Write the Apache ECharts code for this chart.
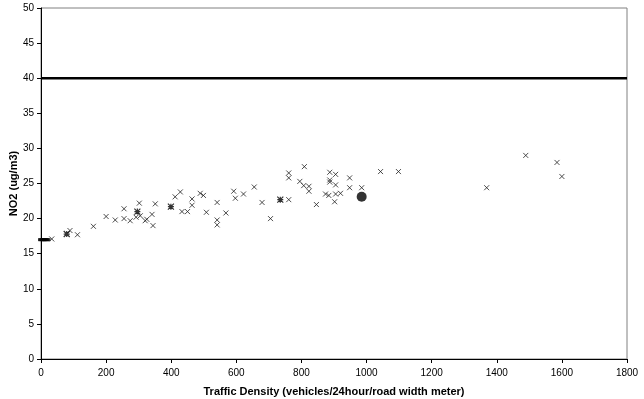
<!DOCTYPE html>
<html><head><meta charset="utf-8">
<script src="https://cdn.jsdelivr.net/npm/echarts@6/dist/echarts.min.js"></script>
<style>html,body{margin:0;padding:0;background:#fff}#c{width:644px;height:399px}</style>
</head><body><div id="c"></div>
<script>
// Data (traffic density, NO2)
const crossX = [33,89,112,161,200,228,255,255,274,302,292,305,320,325,341,344,351,412,428,433,450,464,464,489,499,508,541,541,541,568,592,597,622,655,679,705,761,761,761,795,809,807,823,823,846,874,887,887,887,884,905,905,905,902,920,948,948,985,1043,1098,1369,1489,1585,1600];
const crossY = [17.1,18.3,17.7,18.9,20.3,19.8,21.4,20.0,19.7,22.2,20.2,20.4,19.7,19.9,20.6,19.0,22.1,23.1,23.8,21.0,21.0,22.8,21.9,23.6,23.3,20.9,22.3,19.8,19.1,20.8,23.9,22.9,23.5,24.5,22.3,20.0,22.7,26.5,25.8,25.3,27.4,24.7,24.6,23.9,22.0,23.5,26.6,25.5,25.2,23.3,26.3,24.8,23.5,22.4,23.6,25.8,24.4,24.4,26.7,26.7,24.4,29.0,28.0,26.0];
const starX = [79,296,399,735];
const starY = [17.8,21.0,21.7,22.7];
const dashX = [0,4,8,12,16,20];
const dashY = [17.0,17.0,17.0,17.0,17.0,17.0];
const circleX = [985];
const circleY = [23.1];
const limitX = [0,1800];
const limitY = [40,40];
const xTicks = {min:0,max:1800,interval:200};
const yTicks = {min:0,max:50,interval:5};

const zip = (a,b)=>a.map((v,i)=>[v,b[i]]);
const chart = echarts.init(document.getElementById('c'),null,{renderer:'canvas'});
const font = 'Liberation Sans, Arial, sans-serif';
chart.setOption({
  animation:false,
  grid:{left:41,right:17,top:8,bottom:40,show:true,borderColor:'#808080',borderWidth:1,containLabel:false,outerBoundsMode:'none'},
  xAxis:{type:'value',min:xTicks.min,max:xTicks.max,interval:xTicks.interval,
    name:'Traffic Density (vehicles/24hour/road width meter)',nameLocation:'middle',nameGap:27,
    nameTextStyle:{fontFamily:font,fontSize:11,fontWeight:'bold',color:'#000'},
    axisLine:{lineStyle:{color:'#000',width:1}},
    axisTick:{show:true,length:4,lineStyle:{color:'#000'}},
    axisLabel:{fontFamily:font,fontSize:10,color:'#000',margin:9,formatter:v=>String(v)},
    splitLine:{show:false}},
  yAxis:{type:'value',min:yTicks.min,max:yTicks.max,interval:yTicks.interval,
    name:'NO2 (ug/m3)',nameLocation:'middle',nameGap:22,nameRotate:90,nameMoveOverlap:false,
    nameTextStyle:{fontFamily:font,fontSize:11,fontWeight:'bold',color:'#000'},
    axisLine:{show:true,lineStyle:{color:'#000',width:1}},
    axisTick:{show:true,length:4,lineStyle:{color:'#000'}},
    axisLabel:{fontFamily:font,fontSize:10,color:'#000',margin:7,formatter:v=>String(v)},
    splitLine:{show:false}},
  series:[
    {type:'line',data:zip(limitX,limitY),symbol:'none',lineStyle:{color:'#000',width:2.5},z:3},
    {type:'scatter',data:zip(crossX,crossY),symbol:'path://M0,0L10,10M10,0L0,10',symbolSize:5,
      itemStyle:{color:'none',borderColor:'#222',borderWidth:1},z:4},
    {type:'scatter',data:zip(starX,starY),symbol:'path://M0,0L10,10M10,0L0,10M5,0L5,10M0,5L10,5',symbolSize:6,
      itemStyle:{color:'none',borderColor:'#000',borderWidth:1.2},z:4},
    {type:'scatter',data:zip(dashX,dashY),symbol:'rect',symbolSize:[6,3],
      itemStyle:{color:'#000'},z:4},
    {type:'scatter',data:zip(circleX,circleY),symbol:'circle',symbolSize:10,
      itemStyle:{color:'#000'},z:5}
  ]
});
</script></body></html>
